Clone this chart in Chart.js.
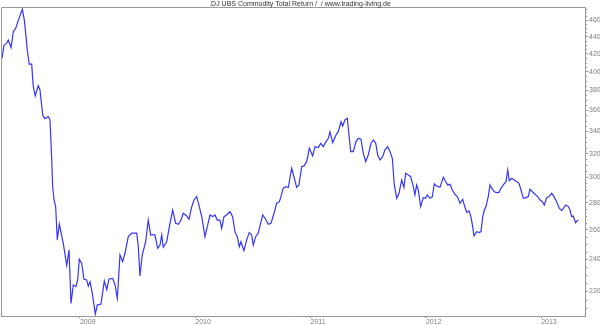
<!DOCTYPE html>
<html>
<head>
<meta charset="utf-8">
<script src="https://cdn.jsdelivr.net/npm/chart.js@4.4.1/dist/chart.umd.min.js"></script>
<style>
  html, body { margin: 0; padding: 0; background: #fff; }
  #wrap { width: 600px; height: 325px; position: relative; }
</style>
</head>
<body>
<div id="wrap"><canvas id="c" width="600" height="325"></canvas></div>
<script>
const chartTitle = ".DJ UBS Commodity Total Return /  / www.trading-living.de";

// Dates as decimal years
const dates = [
  2008.324, 2008.341, 2008.364, 2008.378, 2008.402, 2008.422, 2008.442, 2008.465, 2008.500, 2008.517,
  2008.532, 2008.543, 2008.560, 2008.581, 2008.595, 2008.612, 2008.638, 2008.653, 2008.677, 2008.696,
  2008.725, 2008.740, 2008.755, 2008.763, 2008.775, 2008.789, 2008.803, 2008.821, 2008.855, 2008.885,
  2008.905, 2008.922, 2008.942, 2008.965, 2008.980, 2008.994, 2009.015, 2009.035, 2009.058, 2009.072,
  2009.087, 2009.107, 2009.133, 2009.150, 2009.182, 2009.211, 2009.232, 2009.252, 2009.284, 2009.304,
  2009.324, 2009.347, 2009.370, 2009.390, 2009.419, 2009.448, 2009.492, 2009.506, 2009.520, 2009.540,
  2009.570, 2009.592, 2009.613, 2009.650, 2009.674, 2009.694, 2009.709, 2009.722, 2009.752, 2009.781,
  2009.804, 2009.830, 2009.853, 2009.876, 2009.896, 2009.925, 2009.945, 2009.969, 2009.989, 2010.012,
  2010.035, 2010.056, 2010.084, 2010.104, 2010.128, 2010.151, 2010.171, 2010.191, 2010.214, 2010.229,
  2010.249, 2010.272, 2010.301, 2010.324, 2010.344, 2010.364, 2010.382, 2010.396, 2010.422, 2010.446,
  2010.468, 2010.489, 2010.503, 2010.524, 2010.546, 2010.567, 2010.585, 2010.605, 2010.633, 2010.657,
  2010.683, 2010.706, 2010.729, 2010.743, 2010.763, 2010.787, 2010.807, 2010.836, 2010.859, 2010.879,
  2010.899, 2010.923, 2010.943, 2010.966, 2010.989, 2011.018, 2011.038, 2011.067, 2011.088, 2011.110,
  2011.134, 2011.154, 2011.168, 2011.192, 2011.220, 2011.240, 2011.264, 2011.278, 2011.298, 2011.318,
  2011.348, 2011.370, 2011.394, 2011.414, 2011.437, 2011.457, 2011.478, 2011.500, 2011.524, 2011.544,
  2011.565, 2011.582, 2011.602, 2011.625, 2011.645, 2011.669, 2011.689, 2011.709, 2011.726, 2011.747,
  2011.767, 2011.790, 2011.810, 2011.825, 2011.847, 2011.868, 2011.891, 2011.905, 2011.920, 2011.934,
  2011.955, 2011.977, 2011.998, 2012.012, 2012.036, 2012.056, 2012.073, 2012.094, 2012.122, 2012.151,
  2012.172, 2012.189, 2012.209, 2012.229, 2012.252, 2012.272, 2012.296, 2012.319, 2012.333, 2012.354,
  2012.374, 2012.391, 2012.406, 2012.417, 2012.441, 2012.461, 2012.478, 2012.493, 2012.507, 2012.521,
  2012.541, 2012.556, 2012.571, 2012.593, 2012.614, 2012.634, 2012.651, 2012.671, 2012.695, 2012.710,
  2012.723, 2012.744, 2012.767, 2012.788, 2012.808, 2012.825, 2012.845, 2012.868, 2012.888, 2012.903,
  2012.923, 2012.946, 2012.970, 2012.990, 2013.010, 2013.027, 2013.048, 2013.068, 2013.091, 2013.111,
  2013.134, 2013.157, 2013.178, 2013.192, 2013.213, 2013.235, 2013.250, 2013.265, 2013.278, 2013.299,
  2013.313, 2013.322
];

// Index values
const values = [
  414.9, 430.0, 432.0, 436.0, 427.0, 446.0, 450.0, 460.0, 474.0, 460.5,
  440.0, 424.0, 408.0, 408.5, 384.0, 374.5, 385.0, 380.6, 355.5, 352.0,
  354.0, 350.7, 314.5, 292.4, 282.0, 277.0, 253.0, 264.0, 250.6, 236.0,
  246.0, 212.8, 223.7, 222.7, 226.8, 240.0, 237.3, 227.2, 226.8, 223.0,
  225.7, 218.7, 206.7, 211.8, 212.4, 226.2, 221.0, 227.4, 227.8, 223.7,
  215.7, 242.8, 238.4, 243.9, 255.2, 257.6, 257.6, 248.3, 229.3, 242.8,
  251.7, 267.0, 256.4, 256.4, 247.2, 249.4, 256.4, 247.9, 251.7, 264.7,
  274.4, 264.7, 264.0, 267.0, 272.0, 270.0, 267.6, 276.7, 282.0, 284.6,
  277.0, 269.5, 255.2, 262.2, 270.7, 269.5, 270.7, 267.0, 267.0, 261.0,
  269.5, 270.7, 273.2, 269.5, 258.7, 255.2, 248.3, 251.7, 245.6, 253.0,
  258.0, 256.4, 249.4, 255.2, 257.6, 264.7, 270.7, 268.3, 264.0, 264.7,
  272.0, 279.5, 280.7, 284.6, 291.2, 292.4, 291.9, 307.4, 299.2, 291.9,
  293.8, 308.8, 309.4, 313.0, 324.7, 317.9, 326.1, 325.2, 329.1, 326.1,
  330.6, 333.6, 339.7, 329.7, 336.6, 339.7, 349.0, 345.0, 350.7, 352.3,
  321.7, 321.7, 330.6, 333.6, 332.7, 320.3, 313.0, 318.8, 329.1, 332.1,
  329.1, 318.8, 314.5, 317.3, 323.2, 326.1, 321.7, 315.9, 293.8, 283.3,
  287.2, 297.8, 291.9, 303.3, 301.9, 300.5, 292.4, 285.9, 293.8, 289.8,
  277.0, 283.8, 283.3, 285.9, 283.3, 284.6, 294.6, 292.9, 291.9, 300.0,
  296.4, 293.8, 294.3, 289.8, 286.4, 284.6, 279.5, 282.5, 278.2, 272.6,
  273.7, 269.3, 262.2, 255.7, 258.7, 258.0, 258.7, 269.5, 274.4, 277.0,
  284.6, 293.8, 291.2, 288.4, 287.7, 287.9, 291.2, 293.8, 296.4, 306.0,
  297.2, 299.2, 297.8, 296.4, 295.1, 289.8, 283.3, 283.8, 284.6, 290.3,
  288.4, 286.4, 284.6, 282.0, 280.7, 278.2, 283.8, 284.6, 287.2, 284.6,
  280.7, 275.7, 273.9, 275.7, 278.2, 277.0, 274.4, 269.5, 270.0, 265.1,
  266.6, 267.0
];

const yearTicks = [2009, 2010, 2011, 2012, 2013];
const valueTicks = [220, 240, 260, 280, 300, 320, 340, 360, 380, 400, 420, 440, 460];
const minorTickStep = 5;

const AXIS = '#999999';
const LABEL = '#808080';
const FONT = "'Liberation Sans', Arial, sans-serif";

const framePlugin = {
  id: 'frame',
  afterDraw(chart) {
    const { ctx, chartArea: a } = chart;
    ctx.save();
    ctx.strokeStyle = AXIS;
    ctx.lineWidth = 1;
    ctx.beginPath();
    ctx.moveTo(a.left + 0.5, a.bottom);
    ctx.lineTo(a.left + 0.5, a.top + 0.5);
    ctx.lineTo(a.right, a.top + 0.5);
    ctx.stroke();
    // minor ticks on the right value axis
    const s = chart.scales.y;
    ctx.beginPath();
    for (let v = Math.ceil(s.min / minorTickStep) * minorTickStep; v <= s.max; v += minorTickStep) {
      if (valueTicks.includes(v)) continue;
      const y = Math.round(s.getPixelForValue(v)) + 0.5;
      ctx.moveTo(s.left, y);
      ctx.lineTo(s.left + 2, y);
    }
    ctx.stroke();
    // title
    ctx.fillStyle = '#333333';
    ctx.font = "7px " + FONT;
    ctx.textAlign = 'center';
    ctx.textBaseline = 'alphabetic';
    ctx.fillText(chartTitle, 300, 6);
    ctx.restore();
  }
};

new Chart(document.getElementById('c'), {
  type: 'line',
  data: {
    datasets: [{
      data: dates.map((d, i) => ({ x: d, y: values[i] })),
      borderColor: '#3535ff',
      borderWidth: 1.2,
      pointRadius: 0,
      tension: 0,
      fill: false
    }]
  },
  options: {
    responsive: false,
    animation: false,
    devicePixelRatio: 1,
    layout: { padding: { top: 7, left: 1, right: 0, bottom: 0 } },
    plugins: { legend: { display: false }, title: { display: false }, tooltip: { enabled: false } },
    scales: {
      x: {
        type: 'linear',
        min: 2008.315,
        max: 2013.38,
        afterBuildTicks: s => { s.ticks = yearTicks.map(v => ({ value: v })); },
        afterFit: s => { s.height = 9; },
        grid: { drawOnChartArea: false, drawTicks: true, tickLength: 2, color: AXIS },
        border: { display: true, color: AXIS },
        ticks: {
          autoSkip: false, maxRotation: 0, align: 'start', padding: 0,
          color: LABEL, font: { family: FONT, size: 7 },
          callback: v => String(v)
        }
      },
      y: {
        type: 'logarithmic',
        position: 'right',
        min: 205.6,
        max: 477,
        afterBuildTicks: s => { s.ticks = valueTicks.map(v => ({ value: v })); },
        afterFit: s => { s.width = 15; },
        grid: { drawOnChartArea: false, drawTicks: true, tickLength: 3, color: AXIS },
        border: { display: true, color: AXIS },
        ticks: {
          padding: 1, color: LABEL, font: { family: FONT, size: 7 },
          callback: v => String(v)
        }
      }
    }
  },
  plugins: [framePlugin]
});
</script>
</body>
</html>
